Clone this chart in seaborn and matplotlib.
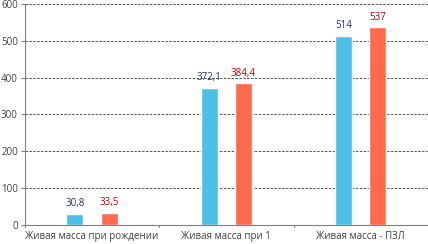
import pandas as pd
import matplotlib
matplotlib.use("Agg")
import matplotlib.pyplot as plt
import seaborn as sns

categories = ["Живая масса при рождении", "Живая масса при 1", "Живая масса - ПЗЛ"]
series_a = [30.8, 372.1, 514]
series_b = [33.5, 384.4, 537]
labels_a = ["30,8", "372,1", "514"]
labels_b = ["33,5", "384,4", "537"]
y_ticks = [0, 100, 200, 300, 400, 500, 600]

blue = "#4DC0E8"
red = "#FF6A4D"

df = pd.DataFrame({
    "cat": categories * 2,
    "val": series_a + series_b,
    "grp": ["a"] * 3 + ["b"] * 3,
})

sns.set_style("white")
plt.rcParams["font.family"] = ["Open Sans", "DejaVu Sans"]

fig = plt.figure(figsize=(4.28, 2.44), dpi=100)
ax = fig.add_axes([0.058, 0.078, 0.942, 0.906])

# два ряда столбцов через hue
sns.barplot(data=df, x="cat", y="val", hue="grp", palette=[blue, red],
            width=0.508, gap=0.5, legend=False, ax=ax, saturation=1)

ax.set_ylim(0, 600)
ax.set_xlim(-0.5, 2.5)
ax.set_yticks(y_ticks)
ax.set_yticklabels([str(t) for t in y_ticks], fontsize=7, color="#404040")
ax.set_xticks(range(3))
ax.set_xticklabels(categories, fontsize=7, color="#404040")
ax.tick_params(axis="x", length=0, pad=4)
ax.tick_params(axis="y", length=3, color="#808080", pad=2, left=True)

for t in [-0.5, 0.5, 1.5, 2.5]:
    ax.plot([t, t], [0, -6], color="#808080", lw=0.8, clip_on=False)

for y in y_ticks[1:]:
    ax.axhline(y, color="#505050", lw=0.7, ls=(0, (2.5, 1.5)), zorder=0)

ax.set_xlabel("")
ax.set_ylabel("")
for s in ["top", "right"]:
    ax.spines[s].set_visible(False)
for s in ["left", "bottom"]:
    ax.spines[s].set_color("#808080")
    ax.spines[s].set_linewidth(0.8)

# подписи значений над столбцами
for i, (va, vb) in enumerate(zip(series_a, series_b)):
    ax.text(i - 0.127, va + 12, labels_a[i], ha="center", va="bottom",
            fontsize=7, color="#1F3864")
    ax.text(i + 0.127, vb + 12, labels_b[i], ha="center", va="bottom",
            fontsize=7, color="#C00000")

fig.savefig("out.png", dpi=100)
